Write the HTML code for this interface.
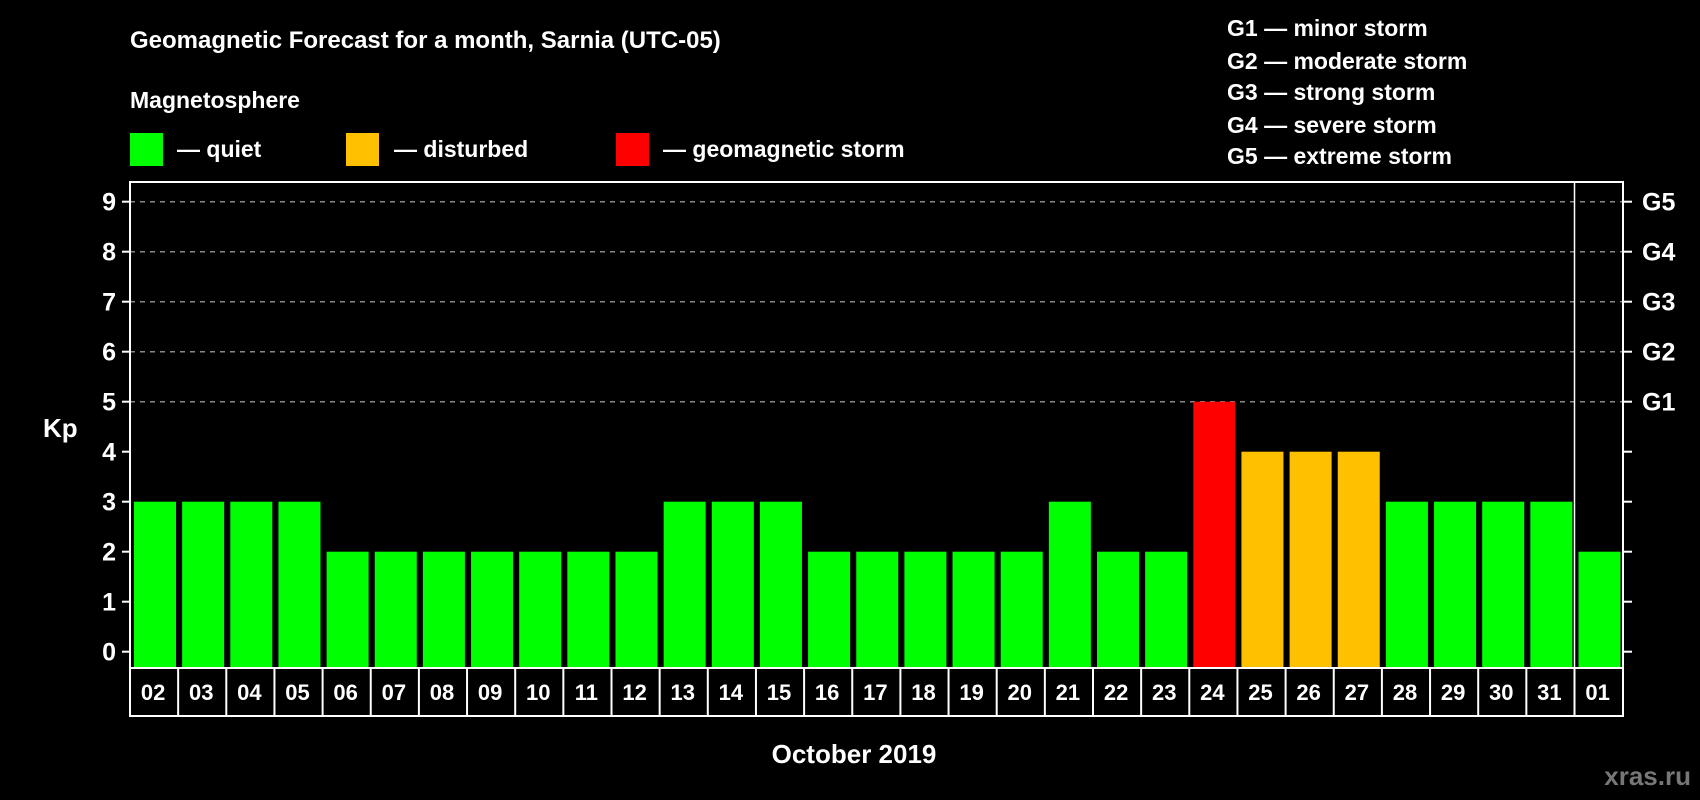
<!DOCTYPE html>
<html><head><meta charset="utf-8"><style>
body{margin:0;background:#000;}
svg{display:block;font-family:"Liberation Sans",sans-serif;font-weight:bold;}
</style></head><body>
<svg id="chart" width="1700" height="800" viewBox="0 0 1700 800">
<rect width="1700" height="800" fill="#000"/>
<text x="130" y="48" font-size="24" fill="#fff">Geomagnetic Forecast for a month, Sarnia (UTC-05)</text>
<text x="130" y="108" font-size="23" fill="#fff">Magnetosphere</text>
<g><rect x="130" y="133" width="33" height="33" fill="#00ff00"/><text x="177" y="157" font-size="23" fill="#fff">— quiet</text></g>
<g><rect x="346" y="133" width="33" height="33" fill="#ffc000"/><text x="394" y="157" font-size="23" fill="#fff">— disturbed</text></g>
<g><rect x="616" y="133" width="33" height="33" fill="#ff0000"/><text x="663" y="157" font-size="23" fill="#fff">— geomagnetic storm</text></g>
<g font-size="23" fill="#fff">
<text x="1227" y="36">G1 — minor storm</text>
<text x="1227" y="69">G2 — moderate storm</text>
<text x="1227" y="100">G3 — strong storm</text>
<text x="1227" y="133">G4 — severe storm</text>
<text x="1227" y="164">G5 — extreme storm</text>
</g>
<text x="43" y="437" font-size="26" fill="#fff">Kp</text>
<text x="854" y="763" font-size="26" fill="#fff" text-anchor="middle">October 2019</text>
<text x="1691" y="785" font-size="26" fill="#777" text-anchor="end">xras.ru</text>
<g id="plot"></g>
</svg>
<script>
const days=["02","03","04","05","06","07","08","09","10","11","12","13","14","15","16","17","18","19","20","21","22","23","24","25","26","27","28","29","30","31","01"];
const kp=[3,3,3,3,2,2,2,2,2,2,2,3,3,3,2,2,2,2,2,3,2,2,5,4,4,4,3,3,3,3,2];
const yTicks=[0,1,2,3,4,5,6,7,8,9];
const gLabels=[[5,"G1"],[6,"G2"],[7,"G3"],[8,"G4"],[9,"G5"]];
const NS="http://www.w3.org/2000/svg";
const g=document.getElementById('plot');
const L=130,R=1623,T=182,B=668,slot=48.15;
const y=v=>651.7-v*50;
const xs=i=>L+i*slot;
function mk(t,a){const e=document.createElementNS(NS,t);for(const k in a)e.setAttribute(k,a[k]);g.appendChild(e);return e;}
yTicks.forEach(v=>{
 if(v>=5){const l=mk('line',{x1:L,x2:R,y1:y(v),y2:y(v),stroke:'#888','stroke-width':1.5,'stroke-dasharray':'5,5'});
 
 }
 const t=mk('line',{x1:L-8,x2:L,y1:y(v),y2:y(v),stroke:'#fff','stroke-width':2});
 
 
 const t2=mk('line',{x1:R,x2:R+9,y1:y(v),y2:y(v),stroke:'#fff','stroke-width':2});
 
 
 const tx=mk('text',{x:116,y:y(v)+9,'font-size':25,fill:'#fff','text-anchor':'end'});tx.textContent=v;
 
 
});
gLabels.forEach(([v,s])=>{const t=mk('text',{x:1642,y:y(v)+9,'font-size':25,fill:'#fff'});t.textContent=s;
 
 });
kp.forEach((v,i)=>{
 const c=v>=5?'#ff0000':v>=4?'#ffc000':'#00ff00';
 const r=mk('rect',{x:xs(i)+4,y:y(v),width:42,height:B-y(v),fill:c});
 
 
 const t=mk('text',{x:xs(i)+slot/2-1,y:700,'font-size':22,fill:'#fff','text-anchor':'middle'});t.textContent=days[i];
 
 
 if(i>0){const d=mk('line',{x1:xs(i),x2:xs(i),y1:B,y2:716,stroke:'#fff','stroke-width':2});
 
 }
});
const f=mk('rect',{x:L,y:T,width:R-L,height:B-T,fill:'none',stroke:'#fff','stroke-width':2});


const lb=mk('rect',{x:L,y:B,width:R-L,height:716-B,fill:'none',stroke:'#fff','stroke-width':2});


const m=mk('line',{x1:xs(30),x2:xs(30),y1:T,y2:B,stroke:'#fff','stroke-width':1.5});


</script>
</body></html>
